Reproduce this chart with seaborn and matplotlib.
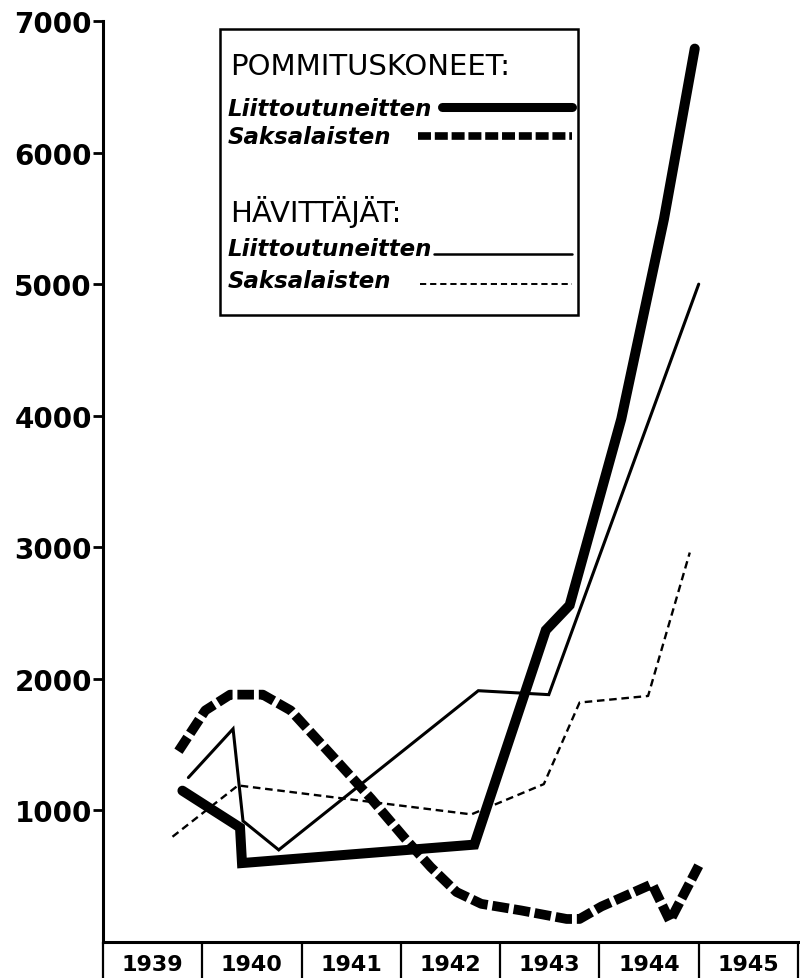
import numpy as np
import matplotlib.pyplot as plt
import pandas as pd
import seaborn as sns
from matplotlib.lines import Line2D
from matplotlib.patches import Rectangle

# pommituskoneet (bombers)
allied_bomber_year = [1939.80, 1940.38, 1940.40, 1942.74, 1943.46, 1943.70, 1944.22, 1944.65, 1944.96]
allied_bomber_count = [1150, 870, 600, 740, 2370, 2560, 3975, 5495, 6790]

german_bomber_year = [1939.76, 1940.03, 1940.28, 1940.61, 1940.89, 1941.29, 1941.70, 1942.05,
                      1942.30, 1942.56, 1942.81, 1943.21, 1943.67, 1943.80, 1944.02, 1944.53,
                      1944.71, 1945.00]
german_bomber_count = [1450, 1760, 1880, 1880, 1760, 1430, 1090, 780,
                       570, 380, 290, 240, 175, 175, 270, 440,
                       160, 580]

# hävittäjät (fighters)
allied_fighter_year = [1939.86, 1940.31, 1940.41, 1940.77, 1942.78, 1943.49, 1945.00]
allied_fighter_count = [1250, 1620, 920, 700, 1910, 1880, 5000]

german_fighter_year = [1939.70, 1940.36, 1942.71, 1943.44, 1943.80, 1944.49, 1944.91]
german_fighter_count = [800, 1190, 970, 1200, 1820, 1870, 2960]

years = [1939, 1940, 1941, 1942, 1943, 1944, 1945]
y_ticks = [1000, 2000, 3000, 4000, 5000, 6000, 7000]

legend_labels = ["POMMITUSKONEET:", "Liittoutuneitten", "Saksalaisten",
                 "HÄVITTÄJÄT:", "Liittoutuneitten", "Saksalaisten"]

sns.set_style("white")
plt.rcParams['font.family'] = ['DejaVu Sans']
plt.rcParams['text.color'] = 'black'
plt.rcParams['xtick.color'] = 'black'
plt.rcParams['ytick.color'] = 'black'

W, H = 800, 979
fig = plt.figure(figsize=(W / 100, H / 100), dpi=100)
ax = fig.add_axes([103 / W, 1 - 943 / H, 695 / W, 921 / H])


def fx(x):
	return x / W


def fy(y):
	return 1 - y / H


thick_dash = (0, (1.7, 0.5))
thin_dash = (0, (3.2, 2.0))

series = [
	(allied_bomber_year, allied_bomber_count, 7.2, '-'),
	(german_bomber_year, german_bomber_count, 7.0, thick_dash),
	(allied_fighter_year, allied_fighter_count, 2.2, '-'),
	(german_fighter_year, german_fighter_count, 1.7, thin_dash),
]
for xs, ys, lw, ls in series:
	df = pd.DataFrame({"year": xs, "count": ys})
	sns.lineplot(data=df, x="year", y="count", ax=ax, sort=False, estimator=None,
	             color="black", lw=lw, linestyle=ls, solid_joinstyle="miter")

ax.set_xlim(1939, 1946)
ax.set_ylim(0, 7000)
ax.set_xlabel("")
ax.set_ylabel("")

for s in ["top", "right"]:
	ax.spines[s].set_visible(False)
for s in ["left", "bottom"]:
	ax.spines[s].set_linewidth(2.2)
	ax.spines[s].set_color("black")

ax.set_yticks(y_ticks)
ax.set_yticklabels([str(v) for v in y_ticks], fontsize=20, fontweight="bold", color="black")
ax.tick_params(axis="y", left=True, length=7, width=2, direction="out", pad=1)

ax.set_xticks(years + [1946])
ax.set_xticklabels([])
ax.tick_params(axis="x", which="major", bottom=True, length=27, width=1.6, direction="out")
ax.set_xticks([y + 0.5 for y in years], minor=True)
ax.set_xticklabels([str(y) for y in years], minor=True, fontsize=16, fontweight="bold", color="black")
ax.tick_params(axis="x", which="minor", bottom=True, length=0, pad=9)

# legend box
fig.patches.append(Rectangle((fx(220), fy(316)), fx(578) - fx(220), fy(30) - fy(316),
                             transform=fig.transFigure, fill=False, lw=1.8, ec="black"))
text_rows = [67, 109, 138, 212, 249, 281]
for lab, yy in zip(legend_labels, text_rows):
	if lab.endswith(":"):
		fig.text(fx(230), fy(yy), lab, fontsize=21, va="center", ha="left", color="black")
	else:
		fig.text(fx(228), fy(yy), lab, fontsize=16.5, va="center", ha="left",
		         style="italic", fontweight="bold", color="black")
samples = [
	(442, 108, 6.5, '-'),
	(418, 137, 5.5, thick_dash),
	(434, 255, 1.8, '-'),
	(420, 285, 1.4, thin_dash),
]
for x0, yy, lw, ls in samples:
	fig.add_artist(Line2D([fx(x0), fx(572)], [fy(yy), fy(yy)], transform=fig.transFigure,
	                      color="black", lw=lw, linestyle=ls, solid_capstyle="round"))

fig.savefig("out.png", dpi=100)
